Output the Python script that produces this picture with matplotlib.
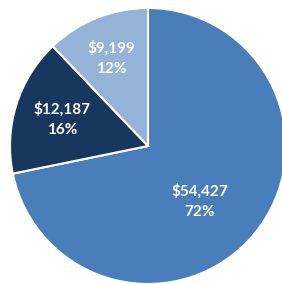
import numpy as np
import matplotlib.pyplot as plt

values = [54427, 12187, 9199]
amount_labels = ["$54,427", "$12,187", "$9,199"]
pct_labels = ["72%", "16%", "12%"]
colors = ["#4a7ebb", "#17375e", "#95b3d7"]

fig = plt.figure(figsize=(2.82, 2.84), dpi=100)
ax = fig.add_axes([0.0, 0.0, 1.0, 1.0])

R = 1.0
wedges, _ = ax.pie(values, colors=colors, startangle=90, counterclock=False,
                   radius=R, wedgeprops=dict(edgecolor="white", linewidth=1.5))

# label placement (fraction of radius, angle shift in degrees)
dist = [0.55, 0.65, 0.69]
shift = [-8, 0, 1]
for w, a, p, d, s in zip(wedges, amount_labels, pct_labels, dist, shift):
    ang = np.deg2rad((w.theta1 + w.theta2) / 2 + s)
    ax.text(d * np.cos(ang), d * np.sin(ang), a + "\n" + p, ha="center", va="center",
            color="white", fontsize=11, fontweight="bold", family="Lato", linespacing=1.55)

# pie centre at (148,146) px, radius ~138 px
ax.set_xlim(-148 / 138, (282 - 148) / 138)
ax.set_ylim(-(284 - 146) / 138, 146 / 138)
ax.set_aspect("equal")
ax.axis("off")

fig.savefig("out.png", dpi=100)
